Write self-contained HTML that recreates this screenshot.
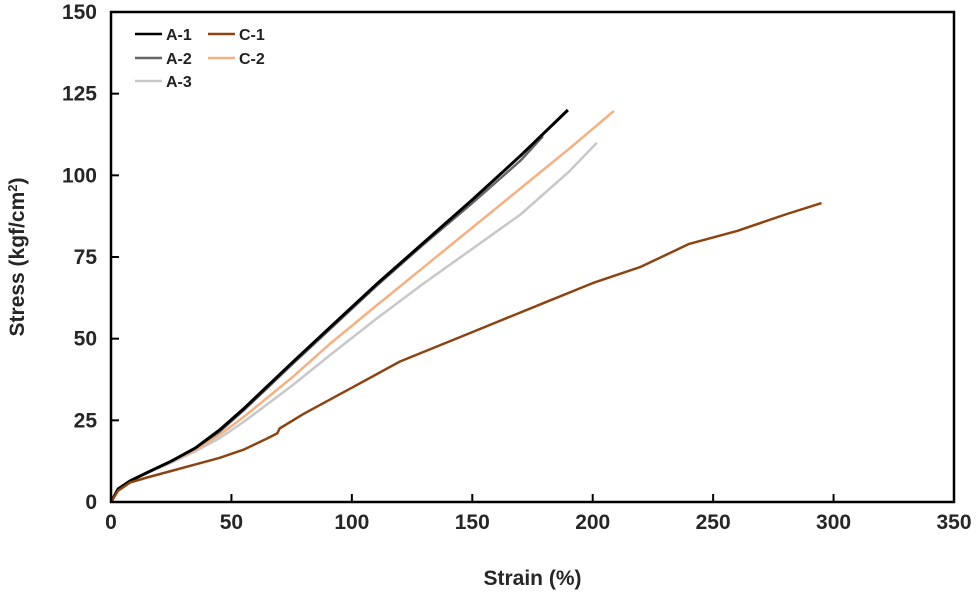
<!DOCTYPE html>
<html><head><meta charset="utf-8"><style>
body{margin:0;background:#fff}
svg{display:block;font-family:"Liberation Sans",sans-serif}
</style></head><body>
<svg id="chart" width="977" height="596"></svg>
<script>
const xTicks=[0,50,100,150,200,250,300,350];
const yTicks=[0,25,50,75,100,125,150];
const seriesNames=["A-1","A-2","A-3","C-1","C-2"];
const seriesColors=["#000000","#666666","#c8c8c8","#8b4513","#f4b183"];
const a1Strain=[0,3,8,15,25,35,45,55,65,75,91,110,130,150,170,189.7];
const a1Stress=[0,4,6.5,9,12.5,16.5,22,28.5,35.5,42.5,53.5,66.5,79.5,92.5,106,120];
const a2Strain=[0,3,8,15,25,35,45,55,65,75,91,110,130,150,170,179.3];
const a2Stress=[0,4,6.5,9,12.5,16.5,21.5,28,35,42,53,66,79,91.5,104.5,112];
const a3Strain=[0,3,8,15,25,35,45,55,65,75,91,110,130,150,170,190,201.7];
const a3Stress=[0,4,6.5,9,12,15.5,19.5,24.5,30,35.5,45,56,67,77.5,88,101,110];
const c1Strain=[0,3,8,15,25,35,45,55,65,69,70,80,100,120,150,180,200,220,240,260,280,295];
const c1Stress=[0,3.5,6,7.5,9.5,11.5,13.5,16,19.5,21,22.5,27,35,43,52,61,67,72,79,83,88,91.5];
const c2Strain=[0,3,8,15,25,35,45,55,65,75,91,110,130,150,170,190,208.8];
const c2Stress=[0,4,6.5,9,12.5,16,20.5,26,32,38,48.5,60,72,84,96,108,119.7];
const allX=[a1Strain,a2Strain,a3Strain,c1Strain,c2Strain];
const allY=[a1Stress,a2Stress,a3Stress,c1Stress,c2Stress];
const NS="http://www.w3.org/2000/svg";
const svg=document.getElementById('chart');
const L=111,R=954,T=12,B=502;
const sx=v=>L+v/350*(R-L), sy=v=>B-v/150*(B-T);
function mk(tag,attrs,parent){const e=document.createElementNS(NS,tag);for(const k in attrs)e.setAttribute(k,attrs[k]);(parent||svg).appendChild(e);return e;}
const order=[2,4,1,0,3];
order.forEach(i=>{
 const d=allX[i].map((x,j)=>(j?'L':'M')+sx(x).toFixed(1)+','+sy(allY[i][j]).toFixed(1)).join('');
 const p=mk('path',{d:d,fill:'none',stroke:seriesColors[i],'stroke-width':i==0?3:2.5,'stroke-linejoin':'round'});
 
 
});
const fr=mk('rect',{x:L,y:T,width:R-L,height:B-T,fill:'none',stroke:'#000','stroke-width':2.5});


xTicks.forEach(v=>{
 const t=mk('line',{x1:sx(v),x2:sx(v),y1:B,y2:B-8,stroke:'#000','stroke-width':2});
 
 
 const l=mk('text',{x:sx(v),y:B+27,'text-anchor':'middle','font-size':21,'font-weight':'bold',fill:'#262626'});
 l.textContent=v;
 
 
});
yTicks.forEach(v=>{
 const t=mk('line',{x1:L,x2:L+8,y1:sy(v),y2:sy(v),stroke:'#000','stroke-width':2});
 
 
 const l=mk('text',{x:L-14,y:sy(v)+7,'text-anchor':'end','font-size':21,'font-weight':'bold',fill:'#262626'});
 l.textContent=v;
 
 
});
const xt=mk('text',{x:(L+R)/2,y:585,'text-anchor':'middle','font-size':21,'font-weight':'bold',fill:'#262626'});
xt.textContent='Strain (%)';


const yt=mk('text',{x:0,y:0,'text-anchor':'middle','font-size':21,'font-weight':'bold',fill:'#262626',transform:'translate(24,257) rotate(-90)'});
yt.innerHTML='Stress (kgf/cm<tspan dy="-7" font-size="13">2</tspan><tspan dy="7">)</tspan>';


const pos=[[135,34],[135,58],[135,81],[208,34],[208,58]];
seriesNames.forEach((n,i)=>{
 const g=mk('g',{});
 
 
 mk('line',{x1:pos[i][0],x2:pos[i][0]+27,y1:pos[i][1],y2:pos[i][1],stroke:seriesColors[i],'stroke-width':2.5},g);
 const t=mk('text',{x:pos[i][0]+31,y:pos[i][1]+6,'font-size':16,'font-weight':'bold',fill:'#222'},g);
 t.textContent=n;
});
</script>
</body></html>
